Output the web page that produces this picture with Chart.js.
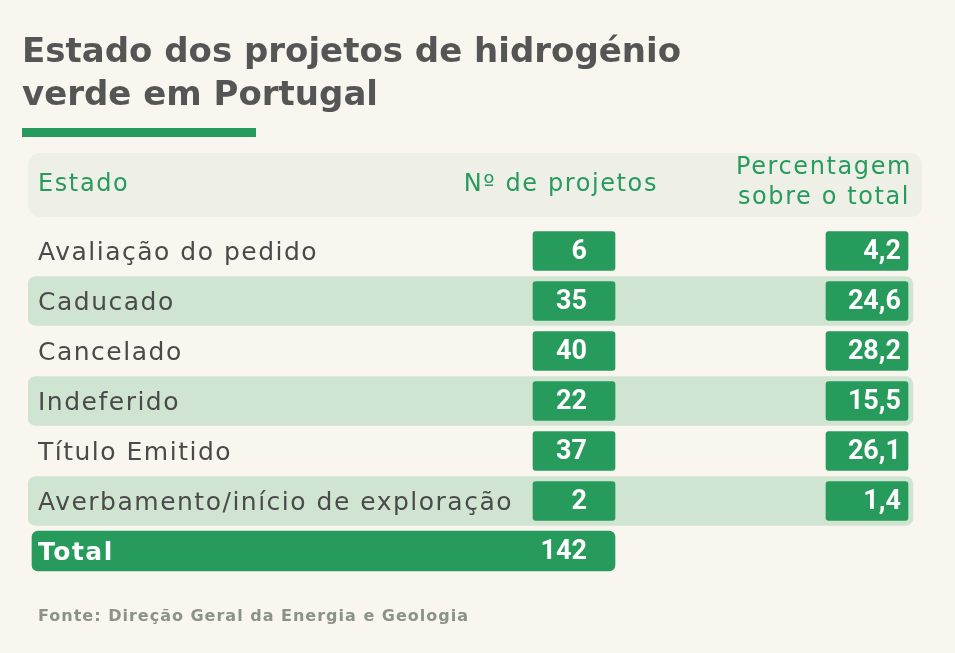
<!DOCTYPE html>
<html>
<head>
<meta charset="utf-8">
<script src="https://cdn.jsdelivr.net/npm/chart.js@4"></script>
<style>
  body { margin: 0; background: #f9f5ef; }
  canvas { display: block; }
</style>
</head>
<body>
<canvas id="js--chart--1" width="955" height="653"></canvas>
<script>
// dados
const estados = [
    "Avaliação do pedido",
    "Caducado",
    "Cancelado",
    "Indeferido",
    "Título Emitido",
    "Averbamento/início de exploração"
];
const projetos = [6, 35, 40, 22, 37, 2];
const percentagem = [4.2, 24.6, 28.2, 15.5, 26.1, 1.4];
const total = 142;

const rowLabels = estados.concat(["Total"]);

// layout das colunas (unidades do eixo x = px desde a esquerda da tabela)
const colStripe = [0, 885];
const colProjetos = [505, 587];
const colPercent = [798, 880];
const colTotal = [4, 587];

const green = "#269b5c";
const stripe = "#d0e5d1";
const headerBg = "#eef0e8";
const labelFont = "'DejaVu Sans', sans-serif";
const numFont = "Roboto, sans-serif";

function fmt(v) {
    return v.toFixed(1).replace(".", ",");
}

const stripeData = rowLabels.map(function (l, i) {
    return (i % 2 === 1 && i < estados.length) ? colStripe : null;
});
const projetosData = projetos.map(function () { return colProjetos; }).concat([null]);
const percentData = percentagem.map(function () { return colPercent; }).concat([null]);
const totalData = estados.map(function () { return null; }).concat([colTotal]);

const tablePlugin = {
    id: "tabela",
    beforeDraw(chart) {
        // letras um pouco mais abertas para os rotulos do eixo
        chart.ctx.letterSpacing = "1.5px";
    },
    afterDraw(chart) {
        chart.ctx.letterSpacing = "0px";
    },
    beforeDatasetsDraw(chart) {
        const ctx = chart.ctx;
        const area = chart.chartArea;
        const x = chart.scales.x;
        ctx.save();
        // titulo
        ctx.letterSpacing = "0px";
        ctx.fillStyle = "#555555";
        ctx.font = "bold 34px " + labelFont;
        ctx.textAlign = "left";
        ctx.textBaseline = "alphabetic";
        ctx.fillText("Estado dos projetos de hidrogénio", 22, 62);
        ctx.fillText("verde em Portugal", 22, 105);
        ctx.fillStyle = green;
        ctx.fillRect(22, 128, 234, 9);

        // cabecalho
        ctx.fillStyle = headerBg;
        ctx.beginPath();
        ctx.roundRect(area.left, 153, area.right - area.left, 64, 12);
        ctx.fill();
        ctx.letterSpacing = "1.6px";
        ctx.fillStyle = green;
        ctx.font = "24px " + labelFont;
        ctx.textBaseline = "middle";
        ctx.fillText("Estado", area.left + 10, 185);
        ctx.textAlign = "right";
        ctx.fillText("Nº de projetos", x.getPixelForValue(colProjetos[1]) + 43, 185);
        ctx.textAlign = "center";
        const pc = x.getPixelForValue(colPercent[1] - 84);
        ctx.fillText("Percentagem", pc, 168);
        ctx.fillText("sobre o total", pc, 198);

        // fonte
        ctx.letterSpacing = "1px";
        ctx.textAlign = "left";
        ctx.fillStyle = "#8c918a";
        ctx.font = "bold 16px " + labelFont;
        ctx.fillText("Fonte: Direção Geral da Energia e Geologia", 38, 617);
        ctx.restore();
    },
    afterDatasetsDraw(chart) {
        const ctx = chart.ctx;
        ctx.save();
        ctx.letterSpacing = "0px";
        ctx.fillStyle = "#ffffff";
        ctx.font = "bold 27px " + numFont;
        ctx.textAlign = "right";
        ctx.textBaseline = "middle";
        chart.getDatasetMeta(1).data.forEach(function (bar, i) {
            if (i < projetos.length) {
                ctx.fillText(String(projetos[i]), Math.max(bar.x, bar.base) - 28, bar.y + 1);
            }
        });
        chart.getDatasetMeta(2).data.forEach(function (bar, i) {
            if (i < percentagem.length) {
                ctx.fillText(fmt(percentagem[i]), Math.max(bar.x, bar.base) - 7, bar.y + 1);
            }
        });
        const tBar = chart.getDatasetMeta(3).data[estados.length];
        ctx.fillText(String(total), Math.max(tBar.x, tBar.base) - 28, tBar.y + 1);
        ctx.restore();
    }
};

const data = {
    labels: rowLabels,
    datasets: [
        {
            label: "linhas",
            data: stripeData,
            backgroundColor: stripe,
            barThickness: 49,
            borderRadius: 8,
            borderSkipped: false,
            order: 3
        },
        {
            label: "Nº de projetos",
            data: projetosData,
            backgroundColor: green,
            barThickness: 39,
            borderRadius: 3,
            borderSkipped: false,
            order: 1
        },
        {
            label: "Percentagem sobre o total",
            data: percentData,
            backgroundColor: green,
            barThickness: 39,
            borderRadius: 3,
            borderSkipped: false,
            order: 1
        },
        {
            label: "Total",
            data: totalData,
            backgroundColor: green,
            barThickness: 40,
            borderRadius: 6,
            borderSkipped: false,
            order: 1
        }
    ]
};

const config = {
    type: "bar",
    data: data,
    options: {
        indexAxis: "y",
        responsive: false,
        animation: false,
        events: [],
        layout: { padding: { top: 226, bottom: 77, left: 28, right: 33 } },
        datasets: { bar: { grouped: false } },
        plugins: {
            legend: { display: false },
            tooltip: { enabled: false },
            title: { display: false }
        },
        scales: {
            x: { display: false, min: 0, max: 894 },
            y: {
                grid: { display: false },
                border: { display: false },
                afterFit: function (s) { s.width = 0; },
                ticks: {
                    mirror: true,
                    padding: 10,
                    labelOffset: 2,
                    z: 1,
                    color: function (c) { return c.index === estados.length ? "#ffffff" : "#4a4a4a"; },
                    font: function (c) {
                        return c.index === estados.length
                            ? { family: labelFont, size: 25, weight: "bold" }
                            : { family: labelFont, size: 25, weight: "normal" };
                    }
                }
            }
        }
    },
    plugins: [tablePlugin]
};

const chart1 = new Chart(document.getElementById("js--chart--1"), config);
</script>
</body>
</html>
